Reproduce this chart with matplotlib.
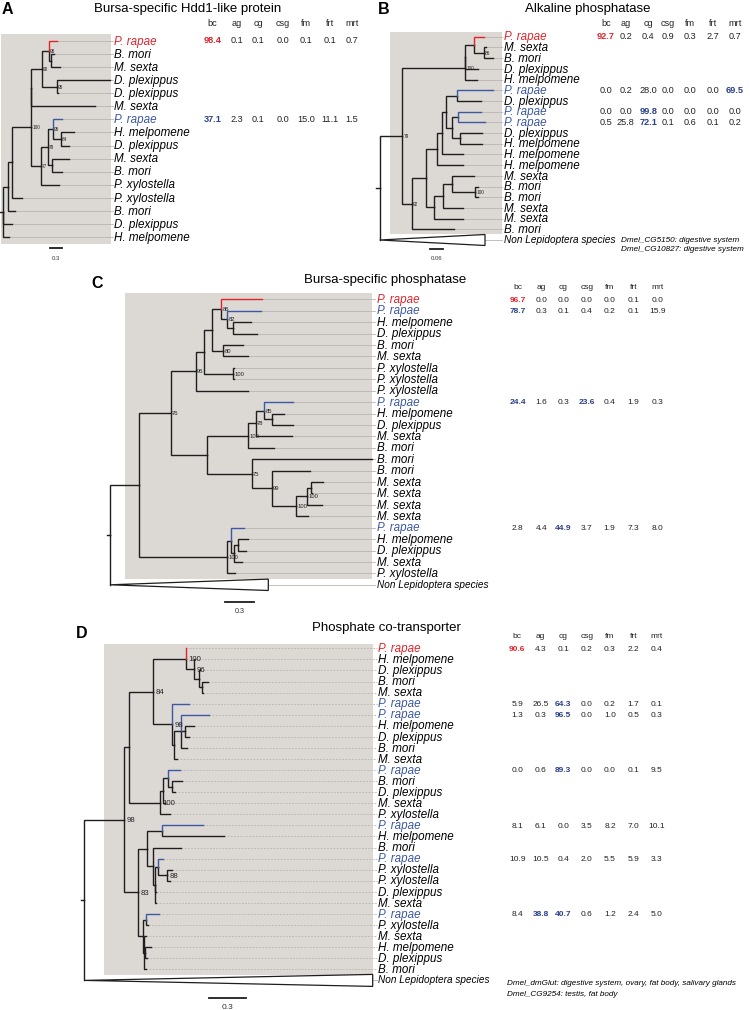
import matplotlib
matplotlib.use("Agg")
import matplotlib.pyplot as plt
from matplotlib.patches import Rectangle, Polygon

plt.rcParams['font.family'] = ['Liberation Sans', 'DejaVu Sans']

RED = '#e3232b'
BLUE = '#3d58a2'
BLUE_B = '#2a3f8c'
LINE = '#1e1e1e'
BOX = '#dcd8d4'
GUIDE = '#b9b5b1'
NONLEP = 'Non Lepidoptera species'
COLS = ['bc', 'ag', 'cg', 'csg', 'fm', 'frt', 'mrt']

# ---- A: Bursa-specific Hdd1-like protein ----
A_TITLE = 'Bursa-specific Hdd1-like protein'
A_LEAVES = ['P. rapae', 'B. mori', 'M. sexta', 'D. plexippus', 'D. plexippus', 'M. sexta',
            'P. rapae', 'H. melpomene', 'D. plexippus', 'M. sexta', 'B. mori', 'P. xylostella',
            'P. xylostella', 'B. mori', 'D. plexippus', 'H. melpomene']
A_RED = [0]
A_BLUE = [6]
# branch lengths in scale-bar pixels (scale bar = 0.3)
A_TREE = ("(((((((0:8,(1:3,2:9):2)98:7,(3:53,4:0.5)95:15)90:11,5:64):0,"
          "(((6:9,(7:13,8:8)84:8)95:5,(9:17,10:10):4)79:7,11:18)77:10)100:19,12:10):3.7,"
          "13:6.7):5.6,14:9.3,15:6.3):2.7;")
A_ROWS = {0: [98.4, 0.1, 0.1, 0.0, 0.1, 0.1, 0.7],
          6: [37.1, 2.3, 0.1, 0.0, 15.0, 11.1, 1.5]}
A_BOLD = {0: [0], 6: [0]}

# ---- B: Alkaline phosphatase ----
B_TITLE = 'Alkaline phosphatase'
B_LEAVES = ['P. rapae', 'M. sexta', 'B. mori', 'D. plexippus', 'H. melpomene', 'P. rapae',
            'D. plexippus', 'P. rapae', 'P. rapae', 'D. plexippus', 'H. melpomene', 'H. melpomene',
            'H. melpomene', 'M. sexta', 'B. mori', 'B. mori', 'M. sexta', 'M. sexta', 'B. mori', NONLEP]
B_RED = [0]
B_BLUE = [5, 7, 8]
B_TREE = ("(((((0:10,(1:2,2:9)86:10):9,3:13):0,4:12)100:62.7,"
          "((((((5:36,6:24):11,((7:23,8:27):6,(9:22,10:22):8):6):4,11:21):5,12:26):11,"
          "(((13:22,(14:2.5,15:2.5)100:23):9,16:20):9,17:29):8):14,18:42)92:9.7)79:22.6,"
          "19:105.3):3.7;")
B_ROWS = {0: [92.7, 0.2, 0.4, 0.9, 0.3, 2.7, 0.7],
          5: [0.0, 0.2, 28.0, 0.0, 0.0, 0.0, 69.5],
          7: [0.0, 0.0, 99.8, 0.0, 0.0, 0.0, 0.0],
          8: [0.5, 25.8, 72.1, 0.1, 0.6, 0.1, 0.2]}
B_BOLD = {0: [0], 5: [6], 7: [2], 8: [2]}
B_NOTES = ['Dmel_CG5150: digestive system', 'Dmel_CG10827: digestive system']

# ---- C: Bursa-specific phosphatase ----
C_TITLE = 'Bursa-specific phosphatase'
C_LEAVES = ['P. rapae', 'P. rapae', 'H. melpomene', 'D. plexippus', 'B. mori', 'M. sexta',
            'P. xylostella', 'P. xylostella', 'P. xylostella', 'P. rapae', 'H. melpomene',
            'D. plexippus', 'M. sexta', 'B. mori', 'B. mori', 'B. mori', 'M. sexta', 'M. sexta',
            'M. sexta', 'M. sexta', 'P. rapae', 'H. melpomene', 'D. plexippus', 'M. sexta',
            'P. xylostella', NONLEP]
C_RED = [0]
C_BLUE = [1, 9, 20]
C_TREE = ("(((((((0:41.3,(1:33.7,(2:17.4,3:24):6)82:6.3)86:9.3,(4:20,5:24.4)80:11.6):7.7,"
          "(6:1,7:1)100:29.3):8.3,8:52)95:25,((((9:28.4,(10:12.6,11:21.6):7.4)85:8.6,12:36)78:8,"
          "13:26.6)100:41,(14:120,(15:38.3,(((16:12.3,17:1.3):4.3,18:15)100:11,19:12.6)100:24)99:20)75:45)"
          ":36)76:31.7,((20:13.3,((21:9.7,22:7.4):4,23:7.4):3.3):4.3,24:8.3)100:87.7):29,25:158.3):3.3;")
C_ROWS = {0: [96.7, 0.0, 0.0, 0.0, 0.0, 0.1, 0.0],
          1: [78.7, 0.3, 0.1, 0.4, 0.2, 0.1, 15.9],
          9: [24.4, 1.6, 0.3, 23.6, 0.4, 1.9, 0.3],
          20: [2.8, 4.4, 44.9, 3.7, 1.9, 7.3, 8.0]}
C_BOLD = {0: [0], 1: [0], 9: [0, 3], 20: [2]}

# ---- D: Phosphate co-transporter ----
D_TITLE = 'Phosphate co-transporter'
D_LEAVES = ['P. rapae', 'H. melpomene', 'D. plexippus', 'B. mori', 'M. sexta', 'P. rapae',
            'P. rapae', 'H. melpomene', 'D. plexippus', 'B. mori', 'M. sexta', 'P. rapae',
            'B. mori', 'D. plexippus', 'M. sexta', 'P. xylostella', 'P. rapae', 'H. melpomene',
            'B. mori', 'P. rapae', 'P. xylostella', 'P. xylostella', 'D. plexippus', 'M. sexta',
            'P. rapae', 'P. xylostella', 'M. sexta', 'H. melpomene', 'D. plexippus', 'B. mori', NONLEP]
D_RED = [0]
D_BLUE = [5, 6, 11, 16, 19, 24]
D_TREE = ("(((((0:0.3,(1:0.5,(2:0.7,(3:5.4,4:0.7):3):5)96:8.3)100:33.3,"
          "(5:17,((6:28.3,(7:9.3,8:4.3):4,9:5.7):6.7,10:2.4):2)98:19.6)84:23.7,"
          "(((11:12.3,(12:10,13:2.7):4.6):4.4,14:1.7):3.3,15:10)100:31):4.7,"
          "(((16:41.6,17:62.3):15,(18:27.7,((19:5.6,(20:5,21:3.3)88:9):2.7,22:0.5,23:0.5):1.7):6.6):8.4,"
          "((24:13.3,25:2.6):2.4,(26:1.2,(27:6,28:2):0.7,29:1.2):1):5)83:14)98:40,30:288.4):3.3;")
D_ROWS = {0: [90.6, 4.3, 0.1, 0.2, 0.3, 2.2, 0.4],
          5: [5.9, 26.5, 64.3, 0.0, 0.2, 1.7, 0.1],
          6: [1.3, 0.3, 96.5, 0.0, 1.0, 0.5, 0.3],
          11: [0.0, 0.6, 89.3, 0.0, 0.0, 0.1, 9.5],
          16: [8.1, 6.1, 0.0, 3.5, 8.2, 7.0, 10.1],
          19: [10.9, 10.5, 0.4, 2.0, 5.5, 5.9, 3.3],
          24: [8.4, 38.8, 40.7, 0.6, 1.2, 2.4, 5.0]}
D_BOLD = {0: [0], 5: [2], 6: [2], 11: [2], 24: [1, 2]}
D_NOTES = ['Dmel_dmGlut: digestive system, ovary, fat body, salivary glands',
           'Dmel_CG9254: testis, fat body']


def parse_newick(s):
    s = s.strip().rstrip(';')
    pos = 0

    def node():
        nonlocal pos
        n = {'children': [], 'name': '', 'len': 0.0}
        if s[pos] == '(':
            pos += 1
            while True:
                n['children'].append(node())
                if s[pos] == ',':
                    pos += 1
                    continue
                pos += 1
                break
        start = pos
        while pos < len(s) and s[pos] not in ':,)':
            pos += 1
        n['name'] = s[start:pos]
        if pos < len(s) and s[pos] == ':':
            pos += 1
            start = pos
            while pos < len(s) and s[pos] not in ',)':
                pos += 1
            n['len'] = float(s[start:pos])
        return n
    return node()


def place(n, x, leaf_y):
    n['x'] = x + n['len']
    if n['children']:
        for c in n['children']:
            place(c, n['x'], leaf_y)
        n['y'] = (n['children'][0]['y'] + n['children'][-1]['y']) / 2
    else:
        n['y'] = leaf_y(int(n['name']))


def draw_panel(ax, tree, names, red, blue, rows, bold, title, notes, lay):
    root = parse_newick(tree)
    y0, dy = lay['leaf_y']
    place(root, lay['x0'], lambda i: y0 + i * dy)
    bx1, by1, bx2, by2 = lay['box']
    ax.add_patch(Rectangle((bx1, by1), bx2 - bx1, by2 - by1, facecolor=BOX,
                           edgecolor='none', zorder=0))

    def colour(i):
        return RED if i in red else (BLUE if i in blue else LINE)

    lx = lay['label_x']
    ls = (0, (2.2, 1.6)) if lay['dashed'] else '-'

    # root stem
    ax.plot([lay['x0'], root['x']], [root['y']] * 2, color=LINE, lw=1.0, zorder=3)

    def rec(n):
        for c in n['children']:
            if not c['children']:
                i = int(c['name'])
                col = colour(i)
                if names[i] == NONLEP:
                    h = lay['tri']
                    ax.plot([n['x'], n['x']], [n['y'], c['y']], color=LINE, lw=1.0, zorder=3)
                    ax.add_patch(Polygon([(n['x'], c['y']), (c['x'], c['y'] - h), (c['x'], c['y'] + h)],
                                         closed=True, facecolor='white', edgecolor=LINE,
                                         lw=0.9, zorder=3))
                    ax.plot([c['x'], lx - 1.5], [c['y']] * 2, color=GUIDE, lw=0.6, zorder=1)
                    ax.text(lx, c['y'] + 3, names[i], fontsize=7.2, style='italic',
                            ha='left', va='baseline', color='black')
                    continue
                ax.plot([n['x'], n['x'], c['x']], [n['y'], c['y'], c['y']], color=col,
                        lw=1.0, zorder=4 if col != LINE else 3, solid_joinstyle='miter')
                ax.plot([c['x'], lx - 1.5], [c['y']] * 2, color=GUIDE, lw=0.6, ls=ls, zorder=1)
                ax.text(lx, c['y'] + 3.7, names[i], fontsize=8.4, style='italic',
                        ha='left', va='baseline', color=col if col != LINE else 'black')
            else:
                ax.plot([n['x'], n['x'], c['x']], [n['y'], c['y'], c['y']], color=LINE,
                        lw=1.0, zorder=3, solid_joinstyle='miter')
                rec(c)
        if n['children'] and n['name']:
            ax.text(n['x'] + lay['sup_dx'], n['y'] + lay['sup_dy'], n['name'],
                    fontsize=lay['sup_fs'], ha='left', va='center', color='#222222', zorder=5)

    rec(root)

    # expression table
    cx = lay['cols_x']
    fs = lay['tab_fs']
    for j, h in enumerate(COLS):
        ax.text(cx[j], lay['head_y'], h, fontsize=fs, ha='center', va='baseline', color='#222222')
    for i, vals in rows.items():
        for j, v in enumerate(vals):
            hl = j in bold.get(i, [])
            col = (RED if i in red else BLUE_B) if hl else '#222222'
            ax.text(cx[j], y0 + i * dy + 2.4, f'{v:.1f}', fontsize=fs, ha='center',
                    va='baseline', color=col, fontweight='bold' if hl else 'normal')

    # title and panel letter
    ax.text(lay['title'][0], lay['title'][1], title, fontsize=9.5, ha='center', va='baseline')
    ax.text(lay['letter'][0], lay['letter'][1], lay['name'], fontsize=11.5, fontweight='bold',
            ha='center', va='center')

    # scale bar
    sx1, sx2, sy, stxt, sty, sfs = lay['scale']
    ax.plot([sx1, sx2], [sy, sy], color=LINE, lw=1.3)
    ax.text((sx1 + sx2) / 2, sty, stxt, fontsize=sfs, ha='center', va='baseline', color='#333333')

    # notes
    for k, t in enumerate(notes):
        ax.text(lay['notes_x'], lay['notes_y'][k], t, fontsize=5.9, style='italic',
                ha='left', va='baseline')


LAY_A = dict(name='A', x0=0, leaf_y=(41, 13.07), box=(1, 34, 111, 244), label_x=114,
             cols_x=[212.3, 236.7, 258.3, 282.7, 306, 330, 351.7], head_y=26, tab_fs=6.6,
             title=(188, 11.7), letter=(7.5, 10), scale=(50, 61.7, 247.7, '0.3', 260.5, 4.3),
             sup_fs=3.4, sup_dx=1.2, sup_dy=0.3, dashed=False, tri=5.5, notes_x=0, notes_y=[])
LAY_B = dict(name='B', x0=376, leaf_y=(36.7, 10.7), box=(390, 32, 502, 234), label_x=503.5,
             cols_x=[606, 625.7, 648.3, 667.7, 690, 712.7, 735], head_y=26, tab_fs=6.6,
             title=(587.5, 11.7), letter=(384, 10), scale=(430, 443, 249.3, '0.06', 260, 4.3),
             sup_fs=3.4, sup_dx=1.2, sup_dy=0.3, dashed=False, tri=5.5,
             notes_x=621, notes_y=[242, 251])
LAY_C = dict(name='C', x0=106.7, leaf_y=(299.3, 11.42), box=(125, 293.3, 371.7, 579.3),
             label_x=376.7, cols_x=[517.7, 541.7, 563.3, 586.7, 609.3, 633.3, 657.3],
             head_y=289.3, tab_fs=6.0, title=(385.3, 282.5), letter=(96.7, 284),
             scale=(225, 254.3, 602.3, '0.3', 613, 5.2), sup_fs=4.2, sup_dx=1.5, sup_dy=0.5,
             dashed=False, tri=5.7, notes_x=0, notes_y=[])
LAY_D = dict(name='D', x0=81, leaf_y=(648.3, 11.07), box=(104.3, 644.3, 372.7, 975),
             label_x=378.3, cols_x=[517.3, 540.7, 563.3, 586.7, 610, 633.3, 656.7],
             head_y=638.3, tab_fs=6.0, title=(386.2, 631), letter=(81.7, 633),
             scale=(209, 245.7, 997.7, '0.3', 1009, 6.0), sup_fs=5.6, sup_dx=2.5, sup_dy=1.0,
             dashed=True, tri=6.0, notes_x=506.7, notes_y=[985, 995.5])

fig = plt.figure(figsize=(7.5, 10.1), dpi=100)
ax = fig.add_axes([0, 0, 1, 1])
ax.set_xlim(0, 750)
ax.set_ylim(1010, 0)
ax.axis('off')

draw_panel(ax, A_TREE, A_LEAVES, A_RED, A_BLUE, A_ROWS, A_BOLD, A_TITLE, [], LAY_A)
draw_panel(ax, B_TREE, B_LEAVES, B_RED, B_BLUE, B_ROWS, B_BOLD, B_TITLE, B_NOTES, LAY_B)
draw_panel(ax, C_TREE, C_LEAVES, C_RED, C_BLUE, C_ROWS, C_BOLD, C_TITLE, [], LAY_C)
draw_panel(ax, D_TREE, D_LEAVES, D_RED, D_BLUE, D_ROWS, D_BOLD, D_TITLE, D_NOTES, LAY_D)

fig.savefig('out.png', dpi=100)
